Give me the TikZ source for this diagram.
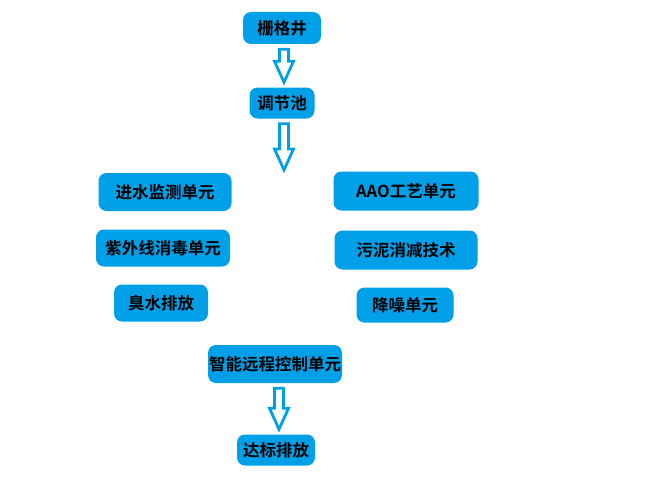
\documentclass[tikz,border=0pt]{standalone}
\usepackage{fontspec}
\newfontfamily\cjk{Noto Sans CJK SC}[BoldFont={Noto Sans CJK SC Bold}]
\usepackage{tikz}
\usetikzlibrary{positioning, calc}
\definecolor{boxblue}{RGB}{0,160,232}
\tikzset{
    unit/.style={
        rectangle,
        rounded corners=8pt,
        fill=boxblue,
        draw=none,
        inner sep=0pt,
        minimum height=37pt,
        text=black,
        font=\cjk\bfseries\fontsize{16.5}{19}\selectfont
    },
    hollow/.style={
        draw=boxblue,
        line width=2.8pt,
        fill=white,
        to path={let \p1=(\tikztostart), \p2=(\tikztotarget) in
            (\x1-4.5pt,\y1-5pt) -- (\x1+4.5pt,\y1-5pt) -- (\x1+4.5pt,\y2+26pt)
            -- (\x1+9.5pt,\y2+26pt) -- (\x1,\y2+5pt) -- (\x1-9.5pt,\y2+26pt)
            -- (\x1-4.5pt,\y2+26pt) -- cycle}
    }
}

\begin{document}
\begin{tikzpicture}[x=1pt, y=-1pt]
\useasboundingbox (0,0) rectangle (656,503);

% main line
\node[unit, minimum width=78pt, minimum height=32pt] (grate) at (282,28) {栅格井};
\node[unit, minimum width=65pt, minimum height=31pt] (basin) at (282,103) {调节池};
\coordinate (flow) at (284,175);

% left column
\node[unit, minimum width=133pt, minimum height=38pt] (inlet) at (165,192) {进水监测单元};
\node[unit, minimum width=134pt] (uvunit) at (163,248) {紫外线消毒单元};
\node[unit, minimum width=94pt] (odor) at (161,303) {臭水排放};

% right column
\node[unit, minimum width=145pt, minimum height=39pt] (aao) at (406,191) {AAO工艺单元};
\node[unit, minimum width=143pt, minimum height=39pt] (sludge) at (406,250) {污泥消减技术};
\node[unit, minimum width=97pt, minimum height=35pt] (noise) at (405,305) {降噪单元};

% control and outlet
\node[unit, minimum width=134pt, minimum height=38pt] (ctrl) at (275,364) {智能远程控制单元};
\node[unit, minimum width=78pt, minimum height=31pt] (outlet) at (276,450) {达标排放};

% arrows
\draw[hollow] ([xshift=2pt]grate.south) to (basin.north);
\draw[hollow] ([xshift=2pt]basin.south) to (flow);
\draw[hollow] ([xshift=4pt]ctrl.south) to (outlet.north);

\end{tikzpicture}
\end{document}
